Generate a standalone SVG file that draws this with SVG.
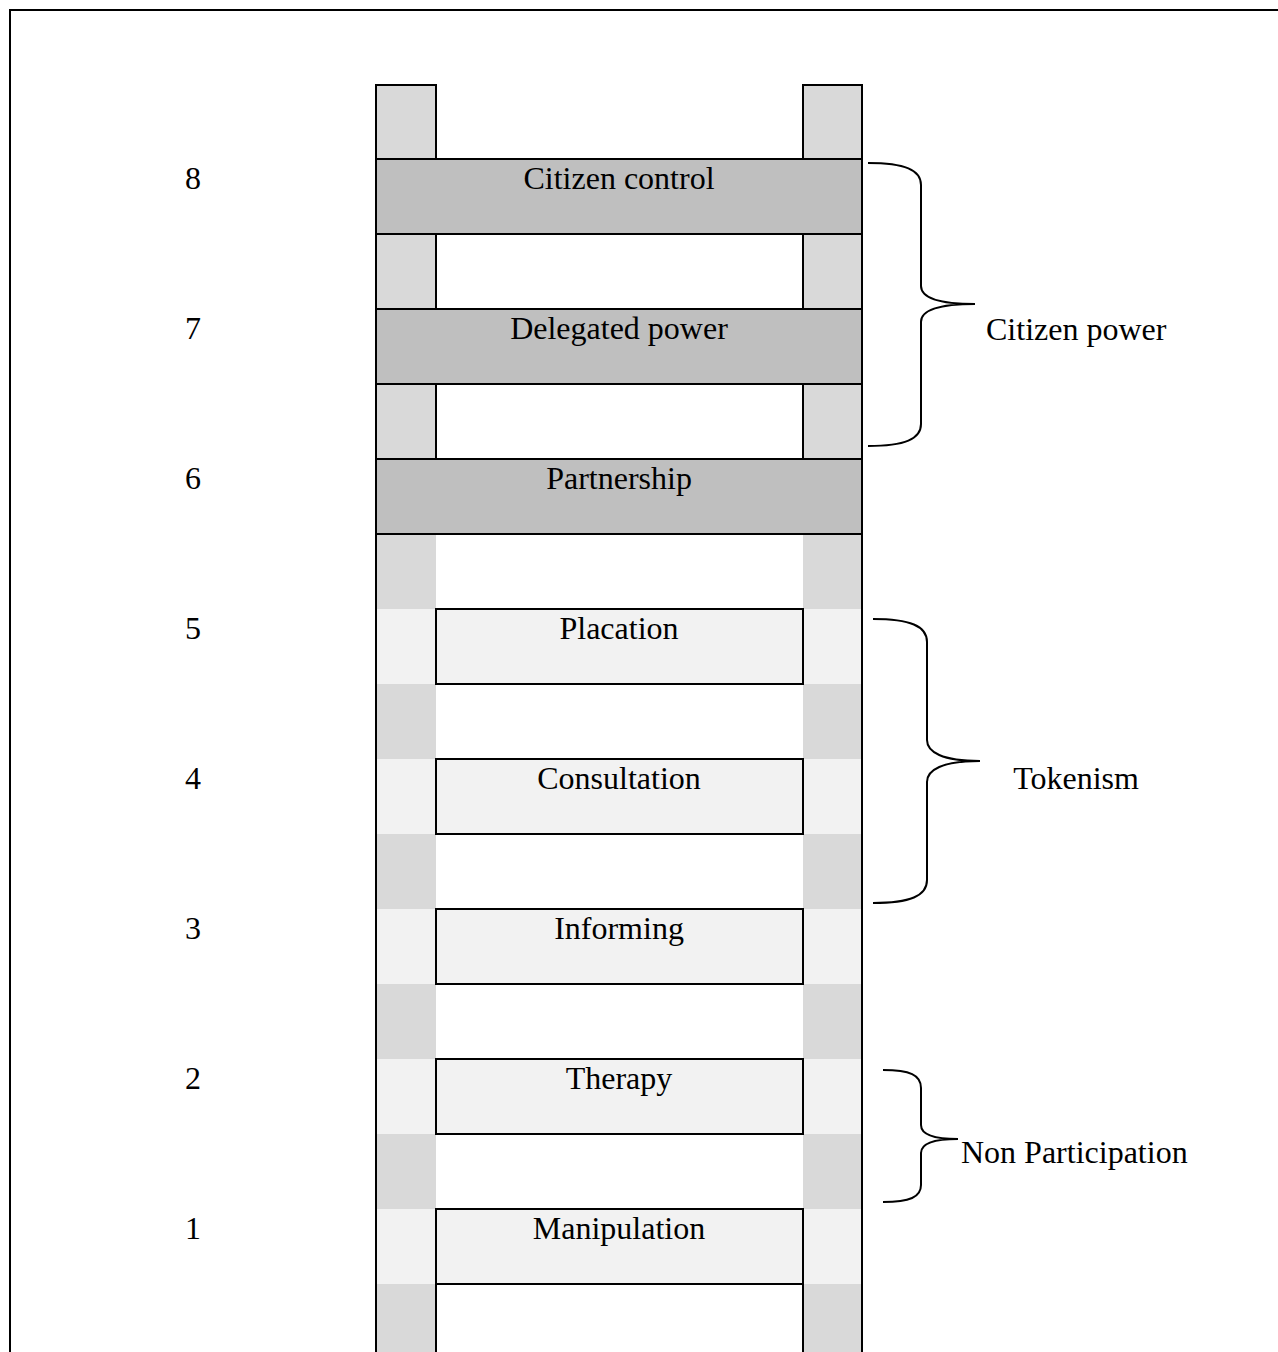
<svg xmlns="http://www.w3.org/2000/svg" width="1278" height="1352" viewBox="0 0 1278 1352">
<style>
.ln{stroke:#000;stroke-width:2;fill:none}
.rail{fill:#d9d9d9}
.railL{fill:#f2f2f2}
.dark{fill:#bfbfbf;stroke:#000;stroke-width:2}
.light{fill:#f2f2f2;stroke:#000;stroke-width:2}
.railb{fill:#d9d9d9;stroke:#000;stroke-width:2}
text{font-family:"Liberation Serif","Times New Roman",serif;font-size:32px;fill:#000}
.c{text-anchor:middle}
.br{stroke:#000;stroke-width:2;fill:none}
</style>
<rect x="0" y="0" width="1278" height="1352" fill="#fff"/>
<path class="ln" d="M10,1352 V10 H1278"/>

<g id="rails">
  <!-- top section rails -->
  <rect class="railb" x="376" y="85" width="60" height="74"/>
  <rect class="railb" x="803" y="85" width="59" height="74"/>
  <rect class="railb" x="376" y="234" width="60" height="75"/>
  <rect class="railb" x="803" y="234" width="59" height="75"/>
  <rect class="railb" x="376" y="384" width="60" height="75"/>
  <rect class="railb" x="803" y="384" width="59" height="75"/>
  <!-- lower section rails: alternating fills -->
  <rect class="rail" x="376" y="534" width="60" height="75"/>
  <rect class="rail" x="803" y="534" width="59" height="75"/>
  <rect class="railL" x="376" y="609" width="60" height="75"/>
  <rect class="railL" x="803" y="609" width="59" height="75"/>
  <rect class="rail" x="376" y="684" width="60" height="75"/>
  <rect class="rail" x="803" y="684" width="59" height="75"/>
  <rect class="railL" x="376" y="759" width="60" height="75"/>
  <rect class="railL" x="803" y="759" width="59" height="75"/>
  <rect class="rail" x="376" y="834" width="60" height="75"/>
  <rect class="rail" x="803" y="834" width="59" height="75"/>
  <rect class="railL" x="376" y="909" width="60" height="75"/>
  <rect class="railL" x="803" y="909" width="59" height="75"/>
  <rect class="rail" x="376" y="984" width="60" height="75"/>
  <rect class="rail" x="803" y="984" width="59" height="75"/>
  <rect class="railL" x="376" y="1059" width="60" height="75"/>
  <rect class="railL" x="803" y="1059" width="59" height="75"/>
  <rect class="rail" x="376" y="1134" width="60" height="75"/>
  <rect class="rail" x="803" y="1134" width="59" height="75"/>
  <rect class="railL" x="376" y="1209" width="60" height="75"/>
  <rect class="railL" x="803" y="1209" width="59" height="75"/>
  <rect class="rail" x="376" y="1284" width="60" height="68"/>
  <rect class="rail" x="803" y="1284" width="59" height="68"/>
  <path class="ln" d="M376,534 V1352 M862,534 V1352 M436,1284 V1352 M803,1284 V1352"/>
</g>

<g id="rung8"><rect class="dark" x="376" y="159" width="486" height="75"/><text class="c" x="619" y="189">Citizen control</text></g>
<g id="rung7"><rect class="dark" x="376" y="309" width="486" height="75"/><text class="c" x="619" y="339">Delegated power</text></g>
<g id="rung6"><rect class="dark" x="376" y="459" width="486" height="75"/><text class="c" x="619" y="489">Partnership</text></g>
<g id="rung5"><rect class="light" x="436" y="609" width="367" height="75"/><text class="c" x="619" y="639">Placation</text></g>
<g id="rung4"><rect class="light" x="436" y="759" width="367" height="75"/><text class="c" x="619" y="789">Consultation</text></g>
<g id="rung3"><rect class="light" x="436" y="909" width="367" height="75"/><text class="c" x="619" y="939">Informing</text></g>
<g id="rung2"><rect class="light" x="436" y="1059" width="367" height="75"/><text class="c" x="619" y="1089">Therapy</text></g>
<g id="rung1"><rect class="light" x="436" y="1209" width="367" height="75"/><text class="c" x="619" y="1239">Manipulation</text></g>

<g id="numbers">
  <text class="c" x="193" y="189">8</text>
  <text class="c" x="193" y="339">7</text>
  <text class="c" x="193" y="489">6</text>
  <text class="c" x="193" y="639">5</text>
  <text class="c" x="193" y="789">4</text>
  <text class="c" x="193" y="939">3</text>
  <text class="c" x="193" y="1089">2</text>
  <text class="c" x="193" y="1239">1</text>
</g>

<g id="connectors">
  <path class="br" d="M868,163 C905,163 921,170 921,185 L921,286 C921,297 935,304 975,304 C935,304 921,311 921,322 L921,424 C921,439 905,446 868,446"/>
  <path class="br" d="M873,619 C910,619 927,626 927,642 L927,740 C927,752 942,761 980,761 C942,761 927,770 927,782 L927,880 C927,896 910,903 873,903"/>
  <path class="br" d="M883,1070 C910,1070 921,1075 921,1088 L921,1125 C921,1134 932,1139 958,1139 C932,1139 921,1144 921,1153 L921,1185 C921,1197 910,1202 883,1202"/>
</g>

<g id="group-citizen-power"><text x="986" y="340">Citizen power</text></g>
<g id="group-tokenism"><text class="c" x="1076" y="789">Tokenism</text></g>
<g id="group-non-participation"><text x="961" y="1163">Non Participation</text></g>
</svg>
